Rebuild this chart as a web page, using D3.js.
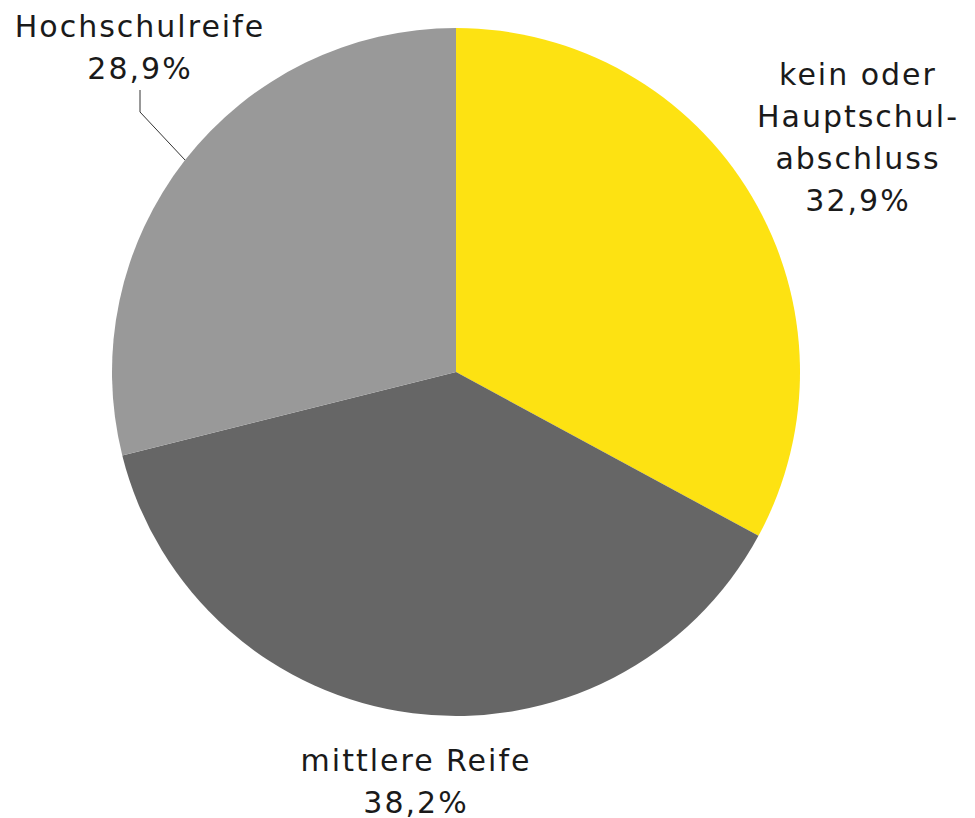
<!DOCTYPE html>
<html>
<head>
<meta charset="utf-8">
<script src="https://cdn.jsdelivr.net/npm/d3@7"></script>
<style>
  body { margin: 0; background: #fff; }
  text { font-family: "DejaVu Sans", sans-serif; font-size: 30px; fill: #1a1a1a; letter-spacing: 2px; }
</style>
</head>
<body>
<div id="chart"></div>
<script>
var labels = [["kein oder", "Hauptschul-", "abschluss"], ["mittlere Reife"], ["Hochschulreife"]];
var values = [32.9, 38.2, 28.9];
var colors = ["#fde212", "#666666", "#999999"];

var width = 975, height = 818;
var cx = 456, cy = 372, radius = 344;

var svg = d3.select("#chart").append("svg")
  .attr("width", width)
  .attr("height", height);

var g = svg.append("g").attr("transform", "translate(" + cx + "," + cy + ")");

var data = values.map(function (v, i) { return { value: v, label: labels[i], color: colors[i] }; });

var pie = d3.pie().sort(null).value(function (d) { return d.value; });
var arc = d3.arc().innerRadius(0).outerRadius(radius);
var arcs = pie(data);

g.selectAll("path")
  .data(arcs)
  .enter().append("path")
  .attr("d", arc)
  .attr("fill", function (d) { return d.data.color; });

// label positions, relative to pie centre
var labelPos = [
  { x: 402, y: -287 },
  { x: -40, y: 399 },
  { x: -316, y: -335 }
];
var lineHeight = 42;

arcs.forEach(function (a, i) {
  var lines = a.data.label.concat([d3.format(".1f")(a.data.value).replace(".", ",") + "%"]);
  var t = g.append("text")
    .attr("text-anchor", "middle")
    .attr("x", labelPos[i].x)
    .attr("y", labelPos[i].y);
  lines.forEach(function (l, j) {
    t.append("tspan")
      .attr("x", labelPos[i].x)
      .attr("dy", j === 0 ? 0 : lineHeight)
      .text(l);
  });
});

// leader line for Hochschulreife
g.append("polyline")
  .attr("points", [[-316, -282], [-316, -260], [-271, -212]].map(function (p) { return p.join(","); }).join(" "))
  .attr("fill", "none")
  .attr("stroke", "#333")
  .attr("stroke-width", 1);
</script>
</body>
</html>
